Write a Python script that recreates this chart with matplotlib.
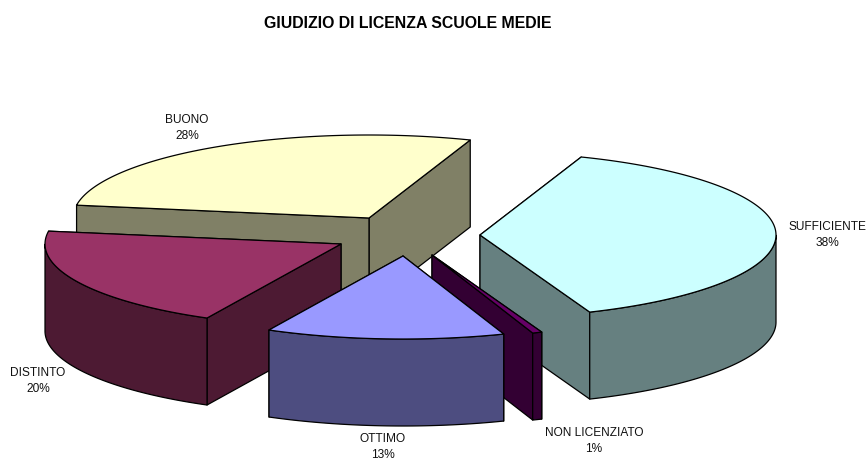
import numpy as np
import matplotlib
matplotlib.use("Agg")
import matplotlib.pyplot as plt

plt.rcParams["font.family"] = ["Liberation Sans", "DejaVu Sans"]

categories = ["SUFFICIENTE", "NON LICENZIATO", "OTTIMO", "DISTINTO", "BUONO"]
values = [38.4, 0.52, 13, 20, 28.08]

top_colors = ["#CCFFFF", "#660066", "#9999FF", "#993366", "#FFFFCC"]
side_colors = ["#668080", "#330033", "#4D4D80", "#4D1A33", "#808066"]

# where each exploded slice has its apex, in pixels
apex_x = [480, 432, 403, 341, 369]
apex_y = [236, 256, 257, 245, 219]
label_x = [827, 594, 383, 38, 187]
label_y = [235, 441, 447, 381, 128]

first_angle = 70  # degrees, going clockwise from here
rx = 296
ry = 83
depth = 87
draw_order = [4, 0, 3, 1, 2]

fig = plt.figure(figsize=(8.67, 4.6), dpi=100)
ax = fig.add_axes([0, 0, 1, 1])
ax.set_xlim(0, 867)
ax.set_ylim(460, 0)
ax.axis("off")

# angle range of every slice
total = sum(values)
starts = []
ends = []
angle = first_angle
for v in values:
    starts.append(angle)
    angle = angle - v / total * 360
    ends.append(angle)


def rim(cx, cy, deg):
    t = np.radians(deg)
    return cx + rx * np.cos(t), cy - ry * np.sin(t)


def draw_poly(xs, ys, color, z):
    ax.fill(xs, ys, facecolor=color, edgecolor="black", linewidth=0.9, joinstyle="round", zorder=z)


z = 1
for i in draw_order:
    cx, cy = apex_x[i], apex_y[i]
    a1, a2 = starts[i], ends[i]

    # radial walls, the one further back goes first
    for a in sorted([a1, a2], key=lambda d: -np.sin(np.radians(d))):
        x, y = rim(cx, cy, a)
        draw_poly([cx, x, x, cx], [cy, y, y + depth, cy + depth], side_colors[i], z)
        z += 1

    # outer wall, only the part of the arc facing the viewer
    arc = np.linspace(a1, a2, 200)
    front = arc[np.sin(np.radians(arc)) <= 0]
    if len(front) > 1:
        xs, ys = rim(cx, cy, front)
        draw_poly(np.r_[xs, xs[::-1]], np.r_[ys, ys[::-1] + depth], side_colors[i], z)
        z += 1

    # top of the slice
    xs, ys = rim(cx, cy, arc)
    draw_poly(np.r_[cx, xs], np.r_[cy, ys], top_colors[i], z)
    z += 1

pct = [f"{round(v / total * 100)}%" for v in values]
for i in range(len(categories)):
    ax.text(label_x[i], label_y[i], categories[i] + "\n" + pct[i], ha="center", va="center",
            fontsize=8.6, linespacing=1.5, color="#111111", zorder=z + 1)

ax.text(408, 23.5, "GIUDIZIO DI LICENZA SCUOLE MEDIE", ha="center", va="center",
        fontsize=11.4, fontweight="bold", color="black", zorder=z + 1)

fig.savefig("out.png", dpi=100)
